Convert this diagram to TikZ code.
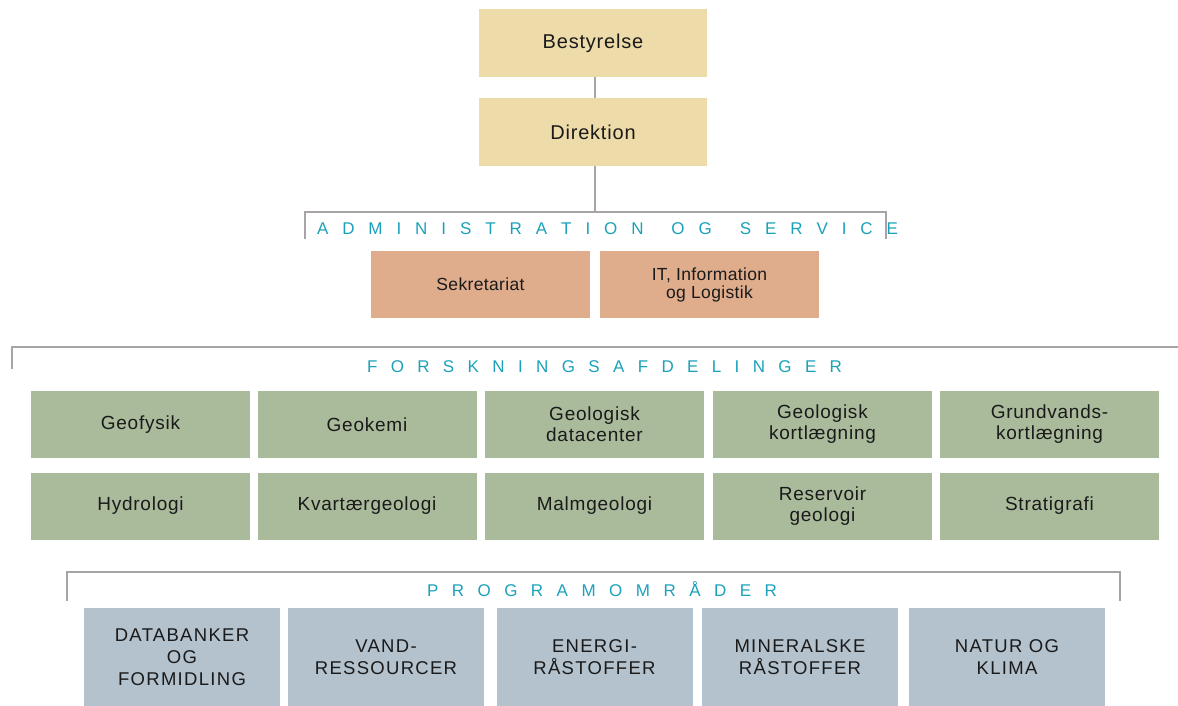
\documentclass[tikz,border=0pt]{standalone}
\usepackage{fontspec}
\setmainfont{Liberation Sans}
\definecolor{beigefill}{HTML}{EDDBA9}
\definecolor{salmonfill}{HTML}{DFAC8C}
\definecolor{greenfill}{HTML}{AABB9C}
\definecolor{bluefill}{HTML}{B4C2CD}
\definecolor{linegray}{HTML}{A9A4A4}
\definecolor{tealtext}{HTML}{1BA1BA}
\definecolor{boxtext}{HTML}{1A1A1A}
\begin{document}
\begin{tikzpicture}[x=1pt,y=-1pt,
  basebox/.style={draw=none, inner sep=0pt, align=center, text=boxtext},
  topbox/.style={basebox, fill=beigefill, minimum width=228pt, minimum height=68pt, font=\fontsize{20}{22}\selectfont\addfontfeature{LetterSpace=4}},
  admbox/.style={basebox, fill=salmonfill, minimum width=219pt, minimum height=67pt, font=\fontsize{17.5}{18}\selectfont\addfontfeature{LetterSpace=2}},
  resbox/.style={basebox, fill=greenfill, minimum width=219pt, minimum height=67pt, font=\fontsize{19}{21}\selectfont\addfontfeature{LetterSpace=4}},
  progbox/.style={basebox, fill=bluefill, minimum width=196pt, minimum height=98pt, font=\fontsize{18.5}{22}\selectfont\addfontfeature{LetterSpace=7}},
  grouplabel/.style={inner sep=0pt, text=tealtext, font=\fontsize{17}{17}\selectfont},
  connector/.style={draw=linegray, line width=2pt}
]
\useasboundingbox (0,0) rectangle (1178,706);

% top
\node[topbox] (best) at (593,43) {Bestyrelse};
\node[topbox] (dir) at (593,132) {Direktion};
\coordinate (adm) at (595,212);
\coordinate (admL) at (305,239);
\coordinate (admR) at (886,239);
\draw[connector] ([xshift=2pt]best.south) -- ([xshift=2pt]dir.north);
\draw[connector] ([xshift=2pt]dir.south) -- (adm);
\draw[connector] (admL) |- (adm) -| (admR);
\node[grouplabel] (admlbl) at (607.5,229) {\makebox[581pt]{A\hfill D\hfill M\hfill I\hfill N\hfill I\hfill S\hfill T\hfill R\hfill A\hfill T\hfill I\hfill O\hfill N\hfill\hfill O\hfill G\hfill\hfill S\hfill E\hfill R\hfill V\hfill I\hfill C\hfill E}};

\node[admbox] (sek) at (480.5,284.5) {Sekretariat};
\node[admbox] (itl) at (709.5,284.5) {IT, Information\\og Logistik};

% research
\coordinate (forL) at (12,369);
\coordinate (forR) at (1178,347);
\draw[connector] (forL) |- (forR);
\node[grouplabel] (forlbl) at (604.5,367) {\makebox[475pt]{F\hfill O\hfill R\hfill S\hfill K\hfill N\hfill I\hfill N\hfill G\hfill S\hfill A\hfill F\hfill D\hfill E\hfill L\hfill I\hfill N\hfill G\hfill E\hfill R}};

\node[resbox] (geof) at (140.5,424.5) {Geofysik};
\node[resbox] (geok) at (367,424.5) {Geokemi};
\node[resbox] (geod) at (594.5,424.5) {Geologisk\\datacenter};
\node[resbox] (geol) at (822.5,424.5) {Geologisk\\kortlægning};
\node[resbox] (grund) at (1049.5,424.5) {Grundvands-\\kortlægning};

\node[resbox] (hydro) at (140.5,506) {Hydrologi};
\node[resbox] (kvart) at (367,506) {Kvartærgeologi};
\node[resbox] (malm) at (594.5,506) {Malmgeologi};
\node[resbox] (reser) at (822.5,506) {Reservoir\\geologi};
\node[resbox] (strat) at (1049.5,506) {Stratigrafi};

% programs
\coordinate (proL) at (67,601);
\coordinate (proM) at (594,572);
\coordinate (proR) at (1120,601);
\draw[connector] (proL) |- (proM) -| (proR);
\node[grouplabel] (prolbl) at (602,589) {\makebox[350pt]{P\hfill R\hfill O\hfill G\hfill R\hfill A\hfill M\hfill O\hfill M\hfill R\hfill Å\hfill D\hfill E\hfill R}};

\node[progbox] (data) at (182,657) {DATABANKER\\OG\\FORMIDLING};
\node[progbox] (vand) at (386,657) {VAND-\\RESSOURCER};
\node[progbox] (ener) at (594.5,657) {ENERGI-\\RÅSTOFFER};
\node[progbox] (mine) at (800,657) {MINERALSKE\\RÅSTOFFER};
\node[progbox] (natur) at (1007,657) {NATUR OG\\KLIMA};
\end{tikzpicture}
\end{document}
